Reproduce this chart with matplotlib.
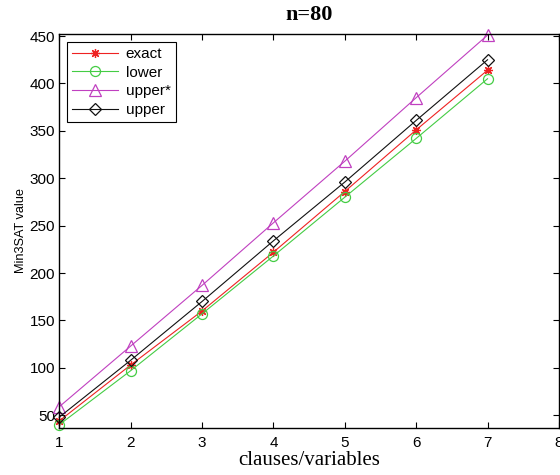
import matplotlib
matplotlib.use("Agg")
import matplotlib.pyplot as plt

ratio = [1, 2, 3, 4, 5, 6, 7]
exact = [44, 103, 160, 222, 286, 351, 414]
lower = [40, 97, 157, 218, 280, 342, 405]
upper_star = [59, 123, 187, 253, 318, 385, 451]
upper = [48, 108, 170, 234, 296, 361, 425]
xticks = [1, 2, 3, 4, 5, 6, 7, 8]
yticks = [50, 100, 150, 200, 250, 300, 350, 400, 450]

plt.rcParams['font.family'] = ['Liberation Sans', 'DejaVu Sans']

fig = plt.figure(figsize=(5.6, 4.75), dpi=100)
ax = fig.add_axes([0.106, 0.100, 0.892, 0.828])

lw = 0.8
ax.plot(ratio, exact, color='#ee2222', marker=(8, 2, 0), ms=6.5, mew=0.9, lw=lw,
        label='exact', clip_on=False)
ax.plot(ratio, lower, color='#44cc44', marker='o', ms=7.2, mfc='none', mew=0.9, lw=lw,
        label='lower', clip_on=False)
ax.plot(ratio, upper_star, color='#c040c0', marker='^', ms=8, mfc='none', mew=0.9, lw=lw,
        label='upper*', clip_on=False)
ax.plot(ratio, upper, color='#111111', marker='D', ms=5.8, mfc='none', mew=0.9, lw=lw,
        label='upper', clip_on=False)

ax.set_xlim(1, 8)
ax.set_ylim(37, 452)
ax.set_xticks(xticks)
ax.set_yticks(yticks)
ax.tick_params(direction='in', top=True, right=True, labelsize=11, length=4, width=0.8)
ax.tick_params(axis='x', pad=6)
ax.tick_params(axis='y', pad=3)
for s in ax.spines.values():
    s.set_linewidth(1.0)

ax.set_title('n=80', family=['Liberation Serif'], fontweight='bold', fontsize=16, pad=10)
ax.set_xlabel('clauses/variables', family=['Liberation Serif'], fontsize=15, labelpad=1)
ax.set_ylabel('Min3SAT value', fontsize=9.2, labelpad=2)

leg = ax.legend(loc='upper left', fontsize=11, fancybox=False, framealpha=1,
                edgecolor='black', handlelength=3.0, borderaxespad=0.5,
                labelspacing=0.3, borderpad=0.35, handletextpad=0.5)
leg.get_frame().set_linewidth(0.8)

fig.savefig('out.png', dpi=100)
